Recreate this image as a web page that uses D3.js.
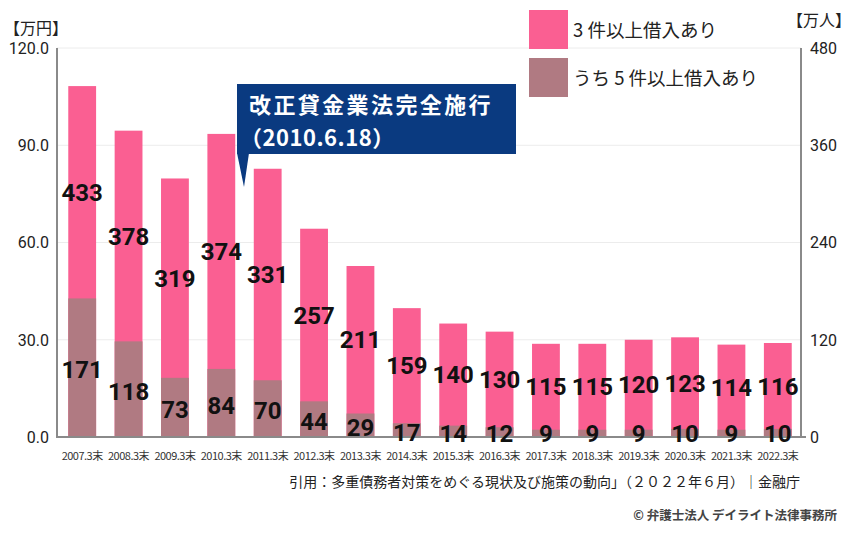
<!DOCTYPE html>
<html>
<head>
<meta charset="utf-8">
<script src="https://cdn.jsdelivr.net/npm/d3@7"></script>
<style>
  body { margin: 0; background: #fff; }
  svg { display: block; }
</style>
</head>
<body>
<svg width="850" height="533"></svg>
<script>
// data (万人)
var years = ["2007.3末","2008.3末","2009.3末","2010.3末","2011.3末","2012.3末","2013.3末","2014.3末",
             "2015.3末","2016.3末","2017.3末","2018.3末","2019.3末","2020.3末","2021.3末","2022.3末"];
var over3 = [433, 378, 319, 374, 331, 257, 211, 159, 140, 130, 115, 115, 120, 123, 114, 116];
var over5 = [171, 118, 73, 84, 70, 44, 29, 17, 14, 12, 9, 9, 9, 10, 9, 10];
var leftTicks = [0, 30, 60, 90, 120];
var rightTicks = [0, 120, 240, 360, 480];

var pink = "#fa5f92";
var mauve = "#b07a82";
var navy = "#0a3a80";
var jp = "'Noto Sans CJK JP', 'Noto Sans', sans-serif";
var num = "Roboto, 'Noto Sans', sans-serif";

var svg = d3.select("svg");

var x = d3.scaleBand()
    .domain(years)
    .range([59, 801])
    .paddingInner(0.4)
    .paddingOuter(0.2);

var yR = d3.scaleLinear().domain([0, 480]).range([437, 48]);
var yL = d3.scaleLinear().domain([0, 120]).range([437, 48]);

// grid lines
svg.append("g").selectAll("line")
    .data(leftTicks.slice(1))
    .enter().append("line")
    .attr("x1", 57).attr("x2", 801)
    .attr("y1", function(d) { return yL(d); })
    .attr("y2", function(d) { return yL(d); })
    .style("stroke", "#ececec")
    .style("stroke-width", 1);

// bars
svg.append("g").selectAll("rect")
    .data(over3)
    .enter().append("rect")
    .attr("x", function(d, i) { return x(years[i]); })
    .attr("y", function(d) { return yR(d); })
    .attr("width", x.bandwidth())
    .attr("height", function(d) { return yR(0) - yR(d); })
    .style("fill", pink);

svg.append("g").selectAll("rect")
    .data(over5)
    .enter().append("rect")
    .attr("x", function(d, i) { return x(years[i]); })
    .attr("y", function(d) { return yR(d); })
    .attr("width", x.bandwidth())
    .attr("height", function(d) { return yR(0) - yR(d); })
    .style("fill", mauve);

// axes lines
svg.append("line")
    .attr("x1", 57).attr("x2", 57).attr("y1", 48).attr("y2", 437)
    .style("stroke", "#8a8a8a").style("stroke-width", 2);
svg.append("line")
    .attr("x1", 801).attr("x2", 801).attr("y1", 48).attr("y2", 437)
    .style("stroke", "#8a8a8a").style("stroke-width", 2);
svg.append("line")
    .attr("x1", 56).attr("x2", 806).attr("y1", 437).attr("y2", 437)
    .style("stroke", "#8a8a8a").style("stroke-width", 2);

// tick labels
svg.append("g").selectAll("text")
    .data(leftTicks)
    .enter().append("text")
    .attr("x", 49)
    .attr("y", function(d) { return yL(d); })
    .attr("dy", "0.36em")
    .attr("text-anchor", "end")
    .style("font-family", num)
    .style("font-size", "16px")
    .style("fill", "#222")
    .text(function(d) { return d.toFixed(1); });

svg.append("g").selectAll("text")
    .data(rightTicks)
    .enter().append("text")
    .attr("x", 810)
    .attr("y", function(d) { return yR(d); })
    .attr("dy", "0.36em")
    .style("font-family", num)
    .style("font-size", "16px")
    .style("fill", "#222")
    .text(function(d) { return d; });

svg.append("g").selectAll("text")
    .data(years)
    .enter().append("text")
    .attr("x", function(d) { return x(d) + x.bandwidth() / 2; })
    .attr("y", 460)
    .attr("text-anchor", "middle")
    .style("font-family", jp)
    .style("font-size", "11px")
    .style("letter-spacing", "-0.5px")
    .style("fill", "#333")
    .text(function(d) { return d; });

// unit labels
svg.append("text")
    .attr("x", 4).attr("y", 34)
    .style("font-family", jp).style("font-size", "16px").style("fill", "#222")
    .text("【万円】");
svg.append("text")
    .attr("x", 787).attr("y", 26)
    .style("font-family", jp).style("font-size", "16px").style("fill", "#222")
    .text("【万人】");

// value labels
svg.append("g").selectAll("text")
    .data(over3)
    .enter().append("text")
    .attr("x", function(d, i) { return x(years[i]) + x.bandwidth() / 2; })
    .attr("y", function(d, i) { return (yR(d) + yR(over5[i])) / 2; })
    .attr("dy", "0.36em")
    .attr("text-anchor", "middle")
    .style("font-family", num)
    .style("font-weight", "bold")
    .style("font-size", "24px")
    .style("fill", "#111")
    .text(function(d) { return d; });

svg.append("g").selectAll("text")
    .data(over5)
    .enter().append("text")
    .attr("x", function(d, i) { return x(years[i]) + x.bandwidth() / 2; })
    .attr("y", function(d) { return Math.min((yR(d) + yR(0)) / 2 + 2, 433); })
    .attr("dy", "0.36em")
    .attr("text-anchor", "middle")
    .style("font-family", num)
    .style("font-weight", "bold")
    .style("font-size", "24px")
    .style("fill", "#111")
    .text(function(d) { return d; });

// legend
var legend = [["3 件以上借入あり", pink], ["うち 5 件以上借入あり", mauve]];
var lg = svg.append("g").selectAll("g")
    .data(legend)
    .enter().append("g")
    .attr("transform", function(d, i) { return "translate(529," + (10 + i * 48) + ")"; });
lg.append("rect")
    .attr("width", 39).attr("height", 39)
    .style("fill", function(d) { return d[1]; });
lg.append("text")
    .attr("x", 44).attr("y", 20).attr("dy", "0.36em")
    .style("font-family", jp).style("font-size", "18.5px").style("fill", "#222")
    .text(function(d) { return d[0]; });

// callout
var co = svg.append("g");
co.append("rect")
    .attr("x", 237).attr("y", 84).attr("width", 279).attr("height", 70)
    .style("fill", navy);
co.append("path")
    .attr("d", "M237,153 L249,153 L244,187 Z")
    .style("fill", navy);
co.append("text")
    .attr("x", 249).attr("y", 113)
    .style("font-family", jp).style("font-weight", "bold").style("font-size", "22px")
    .style("letter-spacing", "2.4px")
    .style("fill", "#fff")
    .text("改正貸金業法完全施行");
co.append("text")
    .attr("x", 240).attr("y", 146)
    .style("font-family", jp).style("font-weight", "bold").style("font-size", "22px")
    .style("letter-spacing", "0.5px")
    .style("fill", "#fff")
    .text("（2010.6.18）");

// source
svg.append("text")
    .attr("x", 800).attr("y", 487)
    .attr("text-anchor", "end")
    .style("font-family", jp).style("font-size", "14px").style("fill", "#222")
    .text("引用：多重債務者対策をめぐる現状及び施策の動向」（２０２２年６月）｜金融庁");

svg.append("text")
    .attr("x", 837).attr("y", 520)
    .attr("text-anchor", "end")
    .style("font-family", jp).style("font-weight", "bold").style("font-size", "12.5px")
    .style("fill", "#444")
    .text("© 弁護士法人 デイライト法律事務所");
</script>
</body>
</html>
